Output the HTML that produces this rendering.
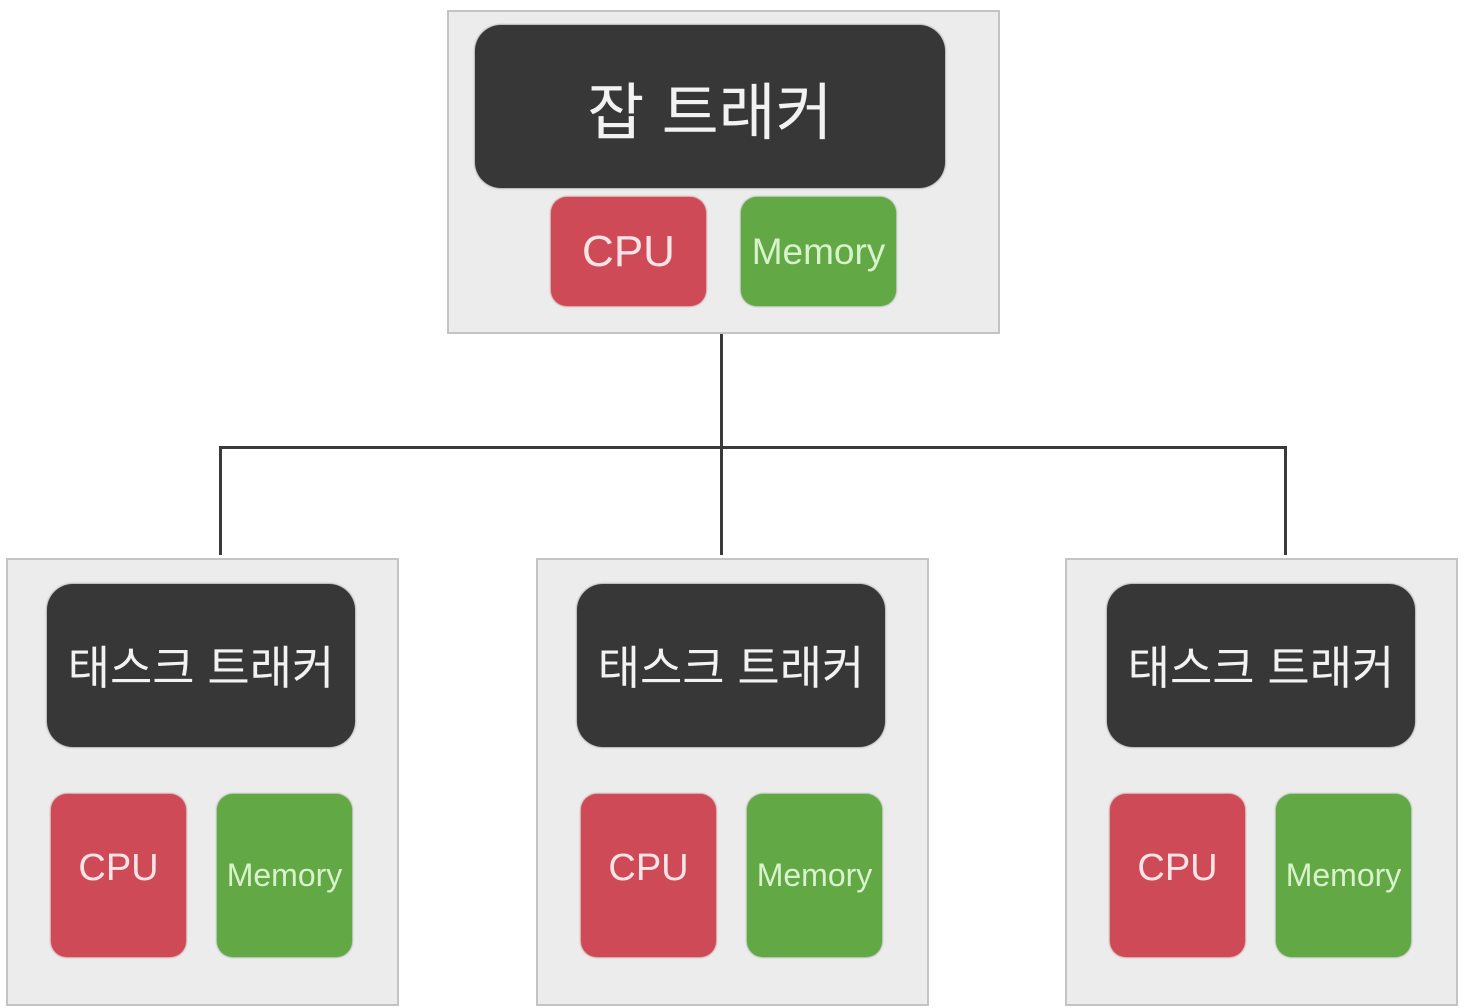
<!DOCTYPE html>
<html><head><meta charset="utf-8"><style>
html,body{margin:0;padding:0;background:#fff;width:1464px;height:1008px;overflow:hidden;position:relative;font-family:"Liberation Sans","Noto Sans CJK KR","NanumGothic",sans-serif}
.box{position:absolute;background:#ececec;border:2px solid #c4c4c4;box-sizing:border-box}
.dark{position:absolute;background:#373737;border-radius:26px;color:#f2f2f2;display:flex;align-items:center;justify-content:center;box-shadow:0 0 2px #666}
.cpu{position:absolute;background:#cf4a57;border-radius:16px;color:#fbe4e6;display:flex;align-items:center;justify-content:center;box-shadow:0 0 2px #a33}
.mem{position:absolute;background:#62a844;border-radius:16px;color:#d8f2cc;display:flex;align-items:center;justify-content:center;box-shadow:0 0 2px #474;overflow:hidden;white-space:nowrap}
.ln{position:absolute;background:#3a3a3a}
</style></head><body>
<div class="ln" style="left:720px;top:333px;width:3px;height:222px"></div>
<div class="ln" style="left:219px;top:446px;width:1068px;height:3px"></div>
<div class="ln" style="left:219px;top:446px;width:3px;height:109px"></div>
<div class="ln" style="left:1284px;top:446px;width:3px;height:109px"></div>

<div class="box" style="left:447px;top:10px;width:553px;height:324px"></div>
<div class="dark" style="left:475px;top:25px;width:470px;height:163px;font-size:62px">잡 트래커</div>
<div class="cpu" style="left:551px;top:197px;width:155px;height:109px;font-size:44px">CPU</div>
<div class="mem" style="left:741px;top:197px;width:155px;height:109px;font-size:37px">Memory</div>

<div class="box" style="left:6px;top:558px;width:393px;height:448px"></div>
<div class="dark" style="left:47px;top:584px;width:308px;height:163px;font-size:46px;align-items:flex-start;padding-top:48px;box-sizing:border-box">태스크 트래커</div>
<div class="cpu" style="left:51px;top:794px;width:135px;height:163px;font-size:38px;padding-bottom:14px;box-sizing:border-box">CPU</div>
<div class="mem" style="left:217px;top:794px;width:135px;height:163px;font-size:32px">Memory</div>

<div class="box" style="left:536px;top:558px;width:393px;height:448px"></div>
<div class="dark" style="left:577px;top:584px;width:308px;height:163px;font-size:46px;align-items:flex-start;padding-top:48px;box-sizing:border-box">태스크 트래커</div>
<div class="cpu" style="left:581px;top:794px;width:135px;height:163px;font-size:38px;padding-bottom:14px;box-sizing:border-box">CPU</div>
<div class="mem" style="left:747px;top:794px;width:135px;height:163px;font-size:32px">Memory</div>

<div class="box" style="left:1065px;top:558px;width:393px;height:448px"></div>
<div class="dark" style="left:1107px;top:584px;width:308px;height:163px;font-size:46px;align-items:flex-start;padding-top:48px;box-sizing:border-box">태스크 트래커</div>
<div class="cpu" style="left:1110px;top:794px;width:135px;height:163px;font-size:38px;padding-bottom:14px;box-sizing:border-box">CPU</div>
<div class="mem" style="left:1276px;top:794px;width:135px;height:163px;font-size:32px">Memory</div>
</body></html>
